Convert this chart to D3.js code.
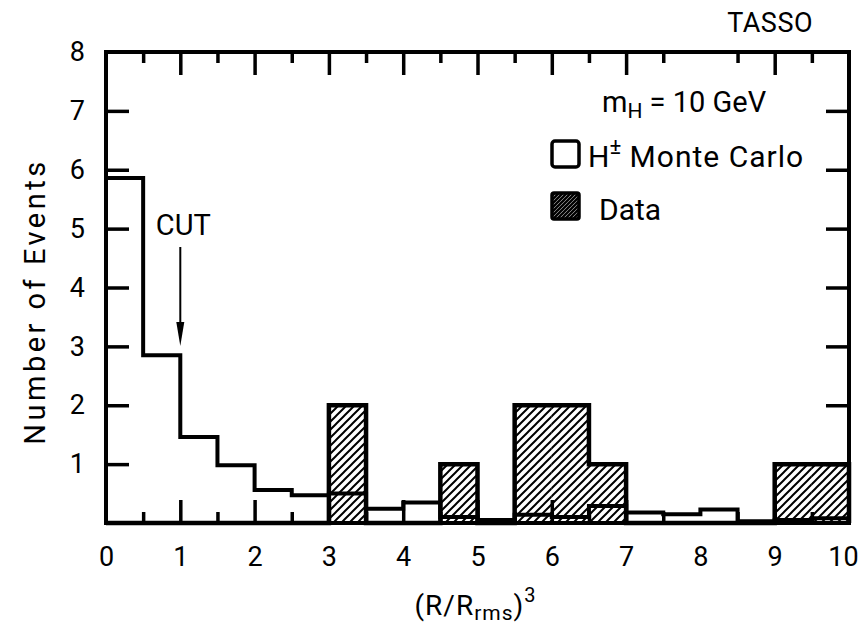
<!DOCTYPE html>
<html>
<head>
<meta charset="utf-8">
<script src="https://cdn.jsdelivr.net/npm/d3@7/dist/d3.min.js"></script>
<style>
  body { margin: 0; background: #fff; }
  text { font-family: Roboto, "DejaVu Sans", sans-serif; fill: #000; }
</style>
</head>
<body>
<div id="chart"></div>
<script>
// bin lower edges, width 0.5
const binStarts = [0, 0.5, 1, 1.5, 2, 2.5, 3, 3.5, 4, 4.5, 5, 5.5, 6, 6.5, 7, 7.5, 8, 8.5, 9, 9.5];
const binWidth = 0.5;
// H+- Monte Carlo (normalised)
const mcValues = [5.86, 2.85, 1.46, 0.98, 0.56, 0.47, 0.5, 0.24, 0.35, 0.1, 0.05, 0.14, 0.1, 0.29, 0.18, 0.15, 0.23, 0.03, 0.05, 0.08];
// data events
const dataValues = [0, 0, 0, 0, 0, 0, 2, 0, 0, 1, 0, 2, 2, 1, 0, 0, 0, 0, 1, 1];
const xTicks = [0, 1, 2, 3, 4, 5, 6, 7, 8, 9, 10];
const xMinorTicks = [0.5, 1.5, 2.5, 3.5, 4.5, 5.5, 6.5, 7.5, 8.5, 9.5];
const yTicks = [1, 2, 3, 4, 5, 6, 7, 8];
const cutValue = 1;

const width = 864, height = 634;
const margin = { left: 106, right: 15, top: 52, bottom: 111 };

const svg = d3.select("#chart").append("svg")
    .attr("width", width)
    .attr("height", height);

const x = d3.scaleLinear().domain([0, 10]).range([margin.left, width - margin.right]);
const y = d3.scaleLinear().domain([0, 8]).range([height - margin.bottom, margin.top]);

// hatching
const defs = svg.append("defs");
defs.append("pattern")
    .attr("id", "hatch")
    .attr("patternUnits", "userSpaceOnUse")
    .attr("width", 8).attr("height", 8)
  .append("path")
    .attr("d", "M-1,1 l2,-2 M0,8 l8,-8 M7,9 l2,-2")
    .attr("stroke", "#000")
    .attr("stroke-width", 2);
defs.append("pattern")
    .attr("id", "hatchDense")
    .attr("patternUnits", "userSpaceOnUse")
    .attr("width", 4).attr("height", 4)
  .append("path")
    .attr("d", "M-1,1 l2,-2 M0,4 l4,-4 M3,5 l2,-2")
    .attr("stroke", "#000")
    .attr("stroke-width", 2.4);

// data bars (hatched fill)
const bins = binStarts.map((s, i) => ({ x0: s, x1: s + binWidth, mc: mcValues[i], data: dataValues[i] }));

svg.append("g")
  .selectAll("rect")
  .data(bins.filter(d => d.data > 0))
  .join("rect")
    .attr("x", d => x(d.x0))
    .attr("y", d => y(d.data))
    .attr("width", d => x(d.x1) - x(d.x0))
    .attr("height", d => y(0) - y(d.data))
    .attr("fill", "url(#hatch)");

const step = d3.line()
    .x(d => x(d[0]))
    .y(d => y(d[1]))
    .curve(d3.curveStepAfter);

// Monte Carlo histogram
const mcPts = bins.map(d => [d.x0, d.mc]);
mcPts.push([10, mcValues[mcValues.length - 1]]);
svg.append("path")
    .attr("d", step(mcPts))
    .attr("fill", "none")
    .attr("stroke", "#000")
    .attr("stroke-width", 4);

// data outline
const dataPts = [[0, 0]].concat(bins.map(d => [d.x0, d.data]));
dataPts.push([10, dataValues[dataValues.length - 1]], [10, 0]);
svg.append("path")
    .attr("d", step(dataPts))
    .attr("fill", "none")
    .attr("stroke", "#000")
    .attr("stroke-width", 4.5);

// axes, ticks pointing inward
const fontSize = 27;
function styleAxis(g) {
  g.select(".domain").remove();
  g.selectAll(".tick line").attr("stroke", "#000").attr("stroke-width", 3.5);
  g.selectAll(".tick text").attr("font-size", fontSize).attr("font-family", null);
}

svg.append("g")
    .attr("transform", `translate(0,${y(0)})`)
    .call(d3.axisBottom(x).tickValues(xTicks).tickSize(-23).tickPadding(24).tickFormat(d3.format("d")))
    .call(styleAxis)
    .call(g => g.selectAll(".tick text").filter(d => d === 10).attr("dx", -6));
svg.append("g")
    .attr("transform", `translate(0,${y(0)})`)
    .call(d3.axisBottom(x).tickValues(xMinorTicks).tickSize(-11).tickFormat(""))
    .call(styleAxis);
svg.append("g")
    .attr("transform", `translate(0,${y(8)})`)
    .call(d3.axisTop(x).tickValues(xTicks).tickSize(-23).tickFormat(""))
    .call(styleAxis);
svg.append("g")
    .attr("transform", `translate(0,${y(8)})`)
    .call(d3.axisTop(x).tickValues(xMinorTicks).tickSize(-11).tickFormat(""))
    .call(styleAxis);
svg.append("g")
    .attr("transform", `translate(${x(0)},0)`)
    .call(d3.axisLeft(y).tickValues(yTicks).tickSize(-23).tickPadding(21).tickFormat(d3.format("d")))
    .call(styleAxis);
svg.append("g")
    .attr("transform", `translate(${x(10)},0)`)
    .call(d3.axisRight(y).tickValues(yTicks).tickSize(-23).tickFormat(""))
    .call(styleAxis);

// hide tick lines at the frame corners
svg.selectAll(".tick").filter(d => d === 0 || d === 10 || d === 8).select("line").remove();

// frame
svg.append("rect")
    .attr("x", x(0)).attr("y", y(8))
    .attr("width", x(10) - x(0)).attr("height", y(0) - y(8))
    .attr("fill", "none")
    .attr("stroke", "#000")
    .attr("stroke-width", 4);

// axis titles
svg.append("text")
    .attr("transform", `translate(45,${(y(0) + y(8)) / 2 + 14}) rotate(-90)`)
    .attr("text-anchor", "middle")
    .attr("font-size", 29)
    .attr("letter-spacing", 3.5)
    .text("Number of Events");

const xt = svg.append("text")
    .attr("x", (x(0) + x(10)) / 2 - 2)
    .attr("y", 615)
    .attr("text-anchor", "middle")
    .attr("font-size", 28)
    .attr("letter-spacing", 1);
xt.append("tspan").text("(R/R");
xt.append("tspan").attr("font-size", 21).attr("dy", 5).text("rms");
xt.append("tspan").attr("dy", -5).text(")");
xt.append("tspan").attr("font-size", 20).attr("dy", -13).text("3");

// TASSO
svg.append("text")
    .attr("x", 813).attr("y", 32)
    .attr("text-anchor", "end")
    .attr("font-size", 27)
    .attr("letter-spacing", 0.5)
    .text("TASSO");

// CUT arrow
svg.append("text")
    .attr("x", x(cutValue) + 3).attr("y", 235)
    .attr("text-anchor", "middle")
    .attr("font-size", 29)
    .text("CUT");
svg.append("line")
    .attr("x1", x(cutValue)).attr("x2", x(cutValue))
    .attr("y1", 247).attr("y2", 330)
    .attr("stroke", "#000").attr("stroke-width", 2);
svg.append("path")
    .attr("d", `M${x(cutValue) - 4},322 L${x(cutValue) + 4},322 L${x(cutValue)},346 Z`)
    .attr("fill", "#000");

// legend
const mh = svg.append("text").attr("x", 602).attr("y", 112).attr("font-size", 29);
mh.append("tspan").text("m");
mh.append("tspan").attr("font-size", 21).attr("dy", 6).text("H");
mh.append("tspan").attr("dy", -6).text(" = 10 GeV");

svg.append("rect")
    .attr("x", 552).attr("y", 141).attr("width", 27).attr("height", 26).attr("rx", 3)
    .attr("fill", "#fff").attr("stroke", "#000").attr("stroke-width", 3.5);
const hl = svg.append("text").attr("x", 588).attr("y", 167).attr("font-size", 30);
hl.append("tspan").text("H");
hl.append("tspan").attr("font-size", 22).attr("dy", -13).text("±");
hl.append("tspan").attr("dy", 13).attr("letter-spacing", 1).text(" Monte Carlo");

svg.append("rect")
    .attr("x", 552).attr("y", 193).attr("width", 27).attr("height", 26).attr("rx", 2)
    .attr("fill", "url(#hatchDense)").attr("stroke", "#000").attr("stroke-width", 3.5);
svg.append("text").attr("x", 599).attr("y", 220).attr("font-size", 30).text("Data");
</script>
</body>
</html>
